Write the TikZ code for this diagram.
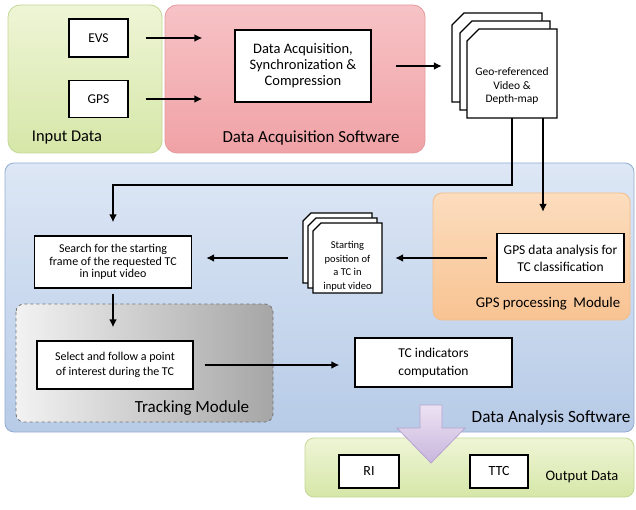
\documentclass[tikz,border=0pt]{standalone}
\usepackage{fontspec}
\setmainfont{Carlito}
\usetikzlibrary{arrows.meta}
\definecolor{greentop}{HTML}{EEF5D6}
\definecolor{greenbot}{HTML}{D6E7A8}
\definecolor{greenline}{HTML}{C3D896}
\definecolor{pinktop}{HTML}{F7C3C6}
\definecolor{pinkbot}{HTML}{F0A2A6}
\definecolor{pinkline}{HTML}{E39A9E}
\definecolor{bluetop}{HTML}{DDE7F5}
\definecolor{bluebot}{HTML}{B7CBE7}
\definecolor{blueline}{HTML}{93ACD2}
\definecolor{orangetop}{HTML}{FCDDBE}
\definecolor{orangebot}{HTML}{F8C392}
\definecolor{orangeline}{HTML}{F1BE8C}
\definecolor{purpletop}{HTML}{ECE2F3}
\definecolor{purplebot}{HTML}{C9B6DD}
\definecolor{purpleline}{HTML}{B6A3CF}
\begin{document}
\begin{tikzpicture}[x=1pt,y=-1pt,>={Latex[length=8pt,width=8pt]},
  box/.style={draw,fill=white,line width=1.4pt,align=center,inner sep=2pt,font=\fontsize{13.5}{17}\selectfont},
  page/.style={draw,fill=white,line width=1.4pt},
  link/.style={->,line width=1.8pt},
  group/.style={rounded corners=12pt,line width=0.8pt}]
\useasboundingbox (0,0) rectangle (636,510);
% containers
\draw[group,draw=greenline,top color=greentop,bottom color=greenbot] (8,5) rectangle (162,153);
\draw[group,draw=pinkline,top color=pinktop,bottom color=pinkbot] (165,5) rectangle (425,153);
\draw[group,rounded corners=9pt,draw=blueline,top color=bluetop,bottom color=bluebot] (5,163) rectangle (634,432);
\draw[group,rounded corners=9pt,draw=orangeline,top color=orangetop,bottom color=orangebot] (433,193) rectangle (630,320);
\draw[group,rounded corners=8pt,dashed,draw=black!55,left color=black!5,right color=black!35] (16,304) rectangle (273,422);
\draw[group,rounded corners=9pt,draw=greenline,top color=greentop,bottom color=greenbot] (305,438) rectangle (634,497);
\node[font=\fontsize{16.4}{18}\selectfont] (inlabel) at (67,138) {Input Data};
\node[font=\fontsize{16.9}{18}\selectfont] (daqlabel) at (311,138) {Data Acquisition Software};
\node[font=\fontsize{17.2}{18}\selectfont] (analabel) at (551,418) {Data Analysis Software};
\node[font=\fontsize{14.8}{18}\selectfont] (gpslabel) at (548,304) {GPS processing\ \ Module};
\node[font=\fontsize{17}{18}\selectfont] (tracklabel) at (192,408) {Tracking Module};
\node[font=\fontsize{14.5}{18}\selectfont] (outlabel) at (582,477) {Output Data};
% boxes
\node[box,minimum width=59,minimum height=38] (evs) at (98.5,38) {EVS};
\node[box,minimum width=59,minimum height=37] (gps) at (98.5,99) {GPS};
\node[box,minimum width=136,minimum height=72,font=\fontsize{14.5}{16}\selectfont] (daq) at (303,66) {Data Acquisition,\\Synchronization \&\\Compression};
\node[box,minimum width=157,minimum height=52,font=\fontsize{12}{12.5}\selectfont] (search) at (113,262) {Search for the starting\\frame of the requested TC\\in input video};
\node[box,minimum width=156,minimum height=48,font=\fontsize{12}{15}\selectfont] (select) at (115,365) {Select and follow a point\\of interest during the TC};
\node[box,minimum width=157,minimum height=49,font=\fontsize{13.5}{18}\selectfont] (tci) at (433.5,362.5) {TC indicators\\computation};
\node[box,minimum width=127,minimum height=49] (gpsa) at (560.5,258) {GPS data analysis for\\TC classification};
\node[box,minimum width=60,minimum height=33,font=\fontsize{14}{16}\selectfont] (ri) at (369,471.5) {RI};
\node[box,minimum width=58,minimum height=33,font=\fontsize{14}{16}\selectfont] (ttc) at (499,471.5) {TTC};
% page stacks
\draw[page] (464,13) -- (542,13) -- (542,102) -- (452,102) -- (452,25) -- cycle;
\draw[page] (472,21) -- (550,21) -- (550,110) -- (460,110) -- (460,33) -- cycle;
\draw[page] (479,29) -- (557,29) -- (557,118) -- (467,118) -- (467,41) -- cycle;
\node[anchor=south,minimum width=90,inner ysep=13,align=center,font=\fontsize{11.5}{13.5}\selectfont] (geo) at (512,118) {Geo-referenced\\Video \&\\Depth-map};
\draw[page] (311,213) -- (372,213) -- (372,283) -- (303,283) -- (303,221) -- cycle;
\draw[page] (316,218) -- (377,218) -- (377,288) -- (308,288) -- (308,226) -- cycle;
\draw[page] (321,223) -- (382,223) -- (382,293) -- (313,293) -- (313,231) -- cycle;
\node[anchor=south,minimum width=69,inner ysep=2,align=center,font=\fontsize{10.5}{13.5}\selectfont] (start) at (347.5,293) {Starting\\position of\\a TC in\\input video};
% connectors
\draw[link,shorten <=17pt,shorten >=32pt] (evs.east) -- (evs.east -| daq.west);
\draw[link,shorten <=17pt,shorten >=32pt] (gps.east) -- (gps.east -| daq.west);
\draw[link,shorten <=24pt,shorten >=25pt] (daq.east) -- (daq.east -| geo.west);
\draw[link,shorten >=21pt] ([xshift=31pt]geo.south) -- ([xshift=31pt]geo.south |- gpsa.north);
\draw[link,shorten >=13pt] (geo.south) -- ++(0,67) -| (search.north);
\draw[link,shorten <=9pt,shorten >=13pt] (gpsa.west) -- (gpsa.west -| start.east);
\draw[link,shorten <=25pt,shorten >=14pt] (start.west |- gpsa.west) -- (gpsa.west -| search.east);
\draw[link,shorten <=5pt,shorten >=13pt] (search.south) -- (search.south |- select.north);
\draw[link,shorten <=11pt,shorten >=15pt] (select.east) -- (select.east -| tci.west);
% output arrow
\draw[line width=0.8pt,draw=purpleline,top color=purpletop,bottom color=purplebot]
  (420,405) -- (442,405) -- (442,428) -- (465,428) -- (431,463) -- (397,428) -- (420,428) -- cycle;
\end{tikzpicture}
\end{document}
